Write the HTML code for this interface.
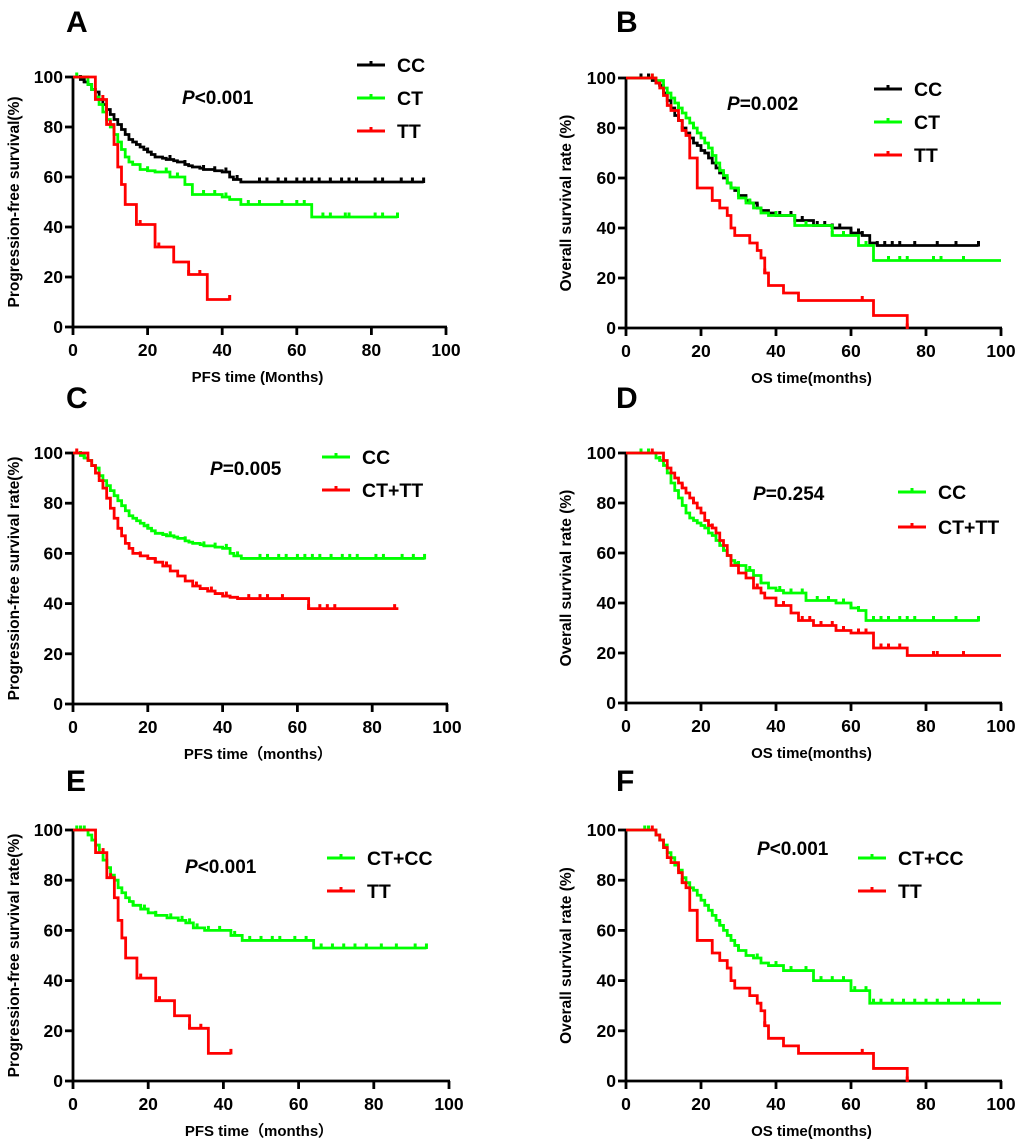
<!DOCTYPE html>
<html><head><meta charset="utf-8">
<style>
html,body{margin:0;padding:0;background:#fff;}
svg{display:block;font-family:"Liberation Sans",Arial,sans-serif;font-weight:bold;}
</style></head>
<body>
<svg id="fig" width="1020" height="1148" viewBox="0 0 1020 1148" xmlns="http://www.w3.org/2000/svg"></svg>
<script>
// ---------- DATA ----------
const xTicks = [0,20,40,60,80,100];
const yTicks = [0,20,40,60,80,100];

// Panel A (PFS)
const aCC_t = [0,2,3,4,5,6,7,8,9,10,11,12,13,14,15,16,17,18,19,20,21,22,24,25,27,28,30,31,32,34,35,38,40,42,43,45,94];
const aCC_v = [100,99,98,97,95,94,91,89,87,85,83,81,79,77,75,74,73,72,71,70,69,68,67.5,67,66.5,66,65,64.5,64,63.5,63,62.5,62,60,59,58,58];
const aCC_c = [2,3,20,26,30,35,38,41,44,50,52,55,57,60,62,64,66,69,72,74,76,81,83,88,91,94];
const aCT_t = [0,4,5,6,7,8,9,10,11,12,13,14,15,16,18,20,22,26,30,32,40,42,45,64,87];
const aCT_v = [100,97,95,92,89,86,83,80,77,74,71,68,66,65,63,62.5,62,60,57,53,52,51,49,44,44];
const aCT_c = [1,20,25,28,35,38,41,47,50,56,60,62,67,69,73,74,81,83,87];
const aTT_t = [0,6,9,11,12,13,14,17,22,27,31,36,42];
const aTT_v = [100,91,81,73,64,57,49,41,32,26,21,11,11];
const aTT_c = [8,10,18,23,31,34,42];

// Panel B (OS)
const bCC_t = [0,5,7,8,9,10,11,12,13,14,15,16,17,18,19,20,21,22,23,24,25,26,27,28,29,30,32,33,35,36,38,40,45,50,55,60,63,65,67,94];
const bCC_v = [100,100,99,98,97,94,91,88,85,83,80,78,76,74,73,71,70,68,66,64,62,60,58,56,55,53,51,50,48,47,46,45,43,41,40,38,37,34,33,33];
const bCC_c = [4,6,9,25,32,35,41,44,47,51,53,55,57,60,62,63,67,69,71,73,77,83,88,94];
const bCT_t = [0,8,10,11,12,13,14,15,16,17,18,19,20,21,22,23,24,25,26,27,28,30,32,34,36,38,45,55,62,66,100];
const bCT_v = [100,99,96,94,92,90,88,86,84,82,80,78,76,74,72,69,66,63,61,58,56,52,50,48,46,45,41,37,33,27,27];
const bCT_c = [7,14,18,23,33,40,48,55,58,64,70,73,75,82,84,90];
const bTT_t = [0,8,9,10,11,12,14,15,16,17,19,23,25,27,28,29,33,35,36,37,38,42,46,66,75];
const bTT_v = [100,98,96,93,89,87,83,79,77,68,56,51,48,45,40,37,34,31,28,22,17,14,11,5,0];
const bTT_c = [7,15,37,63,75];

// Panel C (PFS)
const cCC_t = aCC_t, cCC_v = aCC_v, cCC_c = aCC_c;
const cR_t = [0,4,5,6,7,8,9,10,11,12,13,14,15,16,18,20,22,24,26,28,30,32,34,36,38,40,42,44,63,87];
const cR_v = [100,97,95,92,89,86,82,78,74,70,67,64,62,60,59,58,56.5,55,53,51,49,47,46,45,44,43,42.5,42,38,38];
const cR_c = [1,18,22,25,33,37,41,47,50,52,56,63,66,68,70,86];

// Panel D (OS)
const dCC_t = [0,5,8,9,10,11,12,13,14,15,16,17,18,19,20,21,22,23,24,25,26,27,28,29,30,32,34,36,38,40,42,48,56,60,62,64,94];
const dCC_v = [100,100,98,97,95,92,88,85,82,79,76,74,73,72,71,70,68,67,65,63,61,59,57,56,55,53,51,48,46,45,44,41,40,38,37,33,33];
const dCC_c = [4,6,9,26,30,33,36,41,44,47,51,54,58,60,62,66,68,70,73,75,77,82,88,94];
const dR_t = [0,7,10,11,12,13,14,15,16,17,18,19,20,21,22,23,24,25,26,27,28,30,32,34,36,37,40,44,46,50,56,60,66,75,100];
const dR_v = [100,100,97,94,92,90,88,86,84,82,80,78,76,73,71,70,68,65,63,59,55,52,50,46,44,42,39,36,33,31,29,28,22,19,19];
const dR_c = [7,15,18,23,35,42,47,49,52,55,58,62,64,68,70,73,82,83,90];

// Panel E (PFS)
const eG_t = [0,4,5,6,7,8,9,10,11,12,13,14,15,16,18,20,22,25,28,30,32,35,42,45,64,94];
const eG_v = [100,98,96,94,91,88,85,82,80,77,75,73,71.5,70,68.5,67,66,65,64,63,61,60,58,56,53,53];
const eG_c = [1,2,3,16,19,22,26,29,31,33,36,39,43,47,50,53,55,59,62,66,69,72,75,78,82,86,91,94];
const eT_t = aTT_t, eT_v = aTT_v, eT_c = aTT_c;

// Panel F (OS)
const fG_t = [0,5,8,9,10,11,12,13,14,15,16,17,18,19,20,21,22,23,24,25,26,27,28,29,30,32,34,36,38,42,50,60,65,100];
const fG_v = [100,100,98,96,94,91,89,86,84,81,79,77,76,74,72,70,68,66,64,62,60,58,56,54,52,50,49,47,46,44,40,36,31,31];
const fG_c = [5,6,8,25,30,35,40,44,48,52,55,58,61,64,66,68,71,74,77,80,83,86,90,94];
const fT_t = bTT_t, fT_v = bTT_v, fT_c = bTT_c;

// ---------- DRAW ----------
const NS = "http://www.w3.org/2000/svg";
const svg = document.getElementById('fig');
function mk(tag, attrs, parent){ const e=document.createElementNS(NS,tag); for(const k in attrs) e.setAttribute(k,attrs[k]); (parent||svg).appendChild(e); return e; }
function txt(x,y,s,size,anchor,parent,extra){ const e=mk('text',Object.assign({x:x,y:y,'font-size':size,'text-anchor':anchor||'start',fill:'#000'},extra||{}),parent); e.textContent=s; return e; }

function stepVal(ts,vs,t){ let v=vs[0]; for(let i=0;i<ts.length;i++){ if(ts[i]<=t) v=vs[i]; } return v; }

function panel(p){
  const g = mk('g',{});
  
  
  const X = t => p.x0 + (p.x1-p.x0)*t/100;
  const Y = v => p.y0 - (p.y0-p.y1)*v/100;
  const L = txt(p.lx,p.ly,p.id,30,'start',g);
  
  
  const ax = mk('g',{},g);
  
  
  mk('line',{x1:p.x0,y1:Y(100)-1,x2:p.x0,y2:p.y0,stroke:'#000','stroke-width':2.8},ax);
  mk('line',{x1:p.x0-1,y1:p.y0,x2:p.x1+1,y2:p.y0,stroke:'#000','stroke-width':2.8},ax);
  yTicks.forEach(v=>{
    mk('line',{x1:p.x0-8,y1:Y(v),x2:p.x0,y2:Y(v),stroke:'#000','stroke-width':2.8},ax);
    const t=txt(p.x0-10,Y(v)+6,String(v),17.5,'end',ax);
    
    
  });
  xTicks.forEach(v=>{
    mk('line',{x1:X(v),y1:p.y0,x2:X(v),y2:p.y0+8,stroke:'#000','stroke-width':2.8},ax);
    const t=txt(X(v),p.y0+29,String(v),17.5,'middle',ax);
    
    
  });
  const xt = txt((p.x0+p.x1)/2-2,p.y0+55,p.xtitle,15,'middle',g);
  
  
  const yc=(p.y0+Y(100))/2;
  const yt = txt(0,0,p.ytitle,15.5,'middle',g,{transform:'translate('+p.ytx+','+yc+') rotate(-90)'});
  
  
  const pv = mk('text',{x:p.px,y:p.py,'font-size':19,fill:'#000'},g);
  
  
  const it = mk('tspan',{'font-style':'italic'},pv); it.textContent='P';
  const rest = mk('tspan',{},pv); rest.textContent=p.pval;
  p.series.forEach((s,si)=>{
    const sg = mk('g',{},g);
    
    
    let d='M'+X(s.t[0])+','+Y(s.v[0]);
    for(let i=1;i<s.t.length;i++){ d+=' H'+X(s.t[i])+' V'+Y(s.v[i]); }
    mk('path',{d:d,fill:'none',stroke:s.color,'stroke-width':2.8},sg);
    s.c.forEach(t=>{
      const v=stepVal(s.t,s.v,t);
      mk('line',{x1:X(t),y1:Y(v)-4.5,x2:X(t),y2:Y(v)+1,stroke:s.color,'stroke-width':3},sg);
    });
    const lg = mk('g',{},g);
    
    
    const ly = p.legY + si*p.legDy;
    mk('line',{x1:p.legX,y1:ly,x2:p.legX+28,y2:ly,stroke:s.color,'stroke-width':3},lg);
    mk('line',{x1:p.legX+14,y1:ly-4,x2:p.legX+14,y2:ly,stroke:s.color,'stroke-width':3},lg);
    txt(p.legX+40,ly+7,s.name,19.5,'start',lg);
  });
}

const BLK='#000', GRN='#00ff00', RED='#ff0000';
panel({id:'A',x0:73,x1:446,y0:327,y1:77,lx:66,ly:32,xtitle:'PFS time (Months)',ytitle:'Progression-free survival(%)',ytx:19,px:182,py:104,pval:'<0.001',legX:357,legY:65,legDy:33,
  series:[{name:'CC',t:aCC_t,v:aCC_v,c:aCC_c,color:BLK},{name:'CT',t:aCT_t,v:aCT_v,c:aCT_c,color:GRN},{name:'TT',t:aTT_t,v:aTT_v,c:aTT_c,color:RED}]});
panel({id:'B',x0:626,x1:1001,y0:328,y1:78,lx:616,ly:32,xtitle:'OS time(months)',ytitle:'Overall survival rate (%)',ytx:571,px:727,py:110,pval:'=0.002',legX:874,legY:89,legDy:33,
  series:[{name:'CC',t:bCC_t,v:bCC_v,c:bCC_c,color:BLK},{name:'CT',t:bCT_t,v:bCT_v,c:bCT_c,color:GRN},{name:'TT',t:bTT_t,v:bTT_v,c:bTT_c,color:RED}]});
panel({id:'C',x0:73,x1:447,y0:704,y1:453,lx:66,ly:408,xtitle:'PFS time\uFF08months\uFF09',ytitle:'Progression-free survival rate(%)',ytx:19,px:210,py:475,pval:'=0.005',legX:322,legY:457,legDy:33,
  series:[{name:'CC',t:cCC_t,v:cCC_v,c:cCC_c,color:GRN},{name:'CT+TT',t:cR_t,v:cR_v,c:cR_c,color:RED}]});
panel({id:'D',x0:626,x1:1001,y0:703,y1:453,lx:616,ly:408,xtitle:'OS time(months)',ytitle:'Overall survival rate (%)',ytx:571,px:753,py:500,pval:'=0.254',legX:898,legY:492,legDy:35,
  series:[{name:'CC',t:dCC_t,v:dCC_v,c:dCC_c,color:GRN},{name:'CT+TT',t:dR_t,v:dR_v,c:dR_c,color:RED}]});
panel({id:'E',x0:73,x1:449,y0:1081,y1:830,lx:66,ly:791,xtitle:'PFS time\uFF08months\uFF09',ytitle:'Progression-free survival rate(%)',ytx:19,px:185,py:873,pval:'<0.001',legX:327,legY:858,legDy:33,
  series:[{name:'CT+CC',t:eG_t,v:eG_v,c:eG_c,color:GRN},{name:'TT',t:eT_t,v:eT_v,c:eT_c,color:RED}]});
panel({id:'F',x0:626,x1:1001,y0:1081,y1:830,lx:616,ly:791,xtitle:'OS time(months)',ytitle:'Overall survival rate (%)',ytx:571,px:757,py:855,pval:'<0.001',legX:858,legY:858,legDy:33,
  series:[{name:'CT+CC',t:fG_t,v:fG_v,c:fG_c,color:GRN},{name:'TT',t:fT_t,v:fT_v,c:fT_c,color:RED}]});
</script>
</body></html>
